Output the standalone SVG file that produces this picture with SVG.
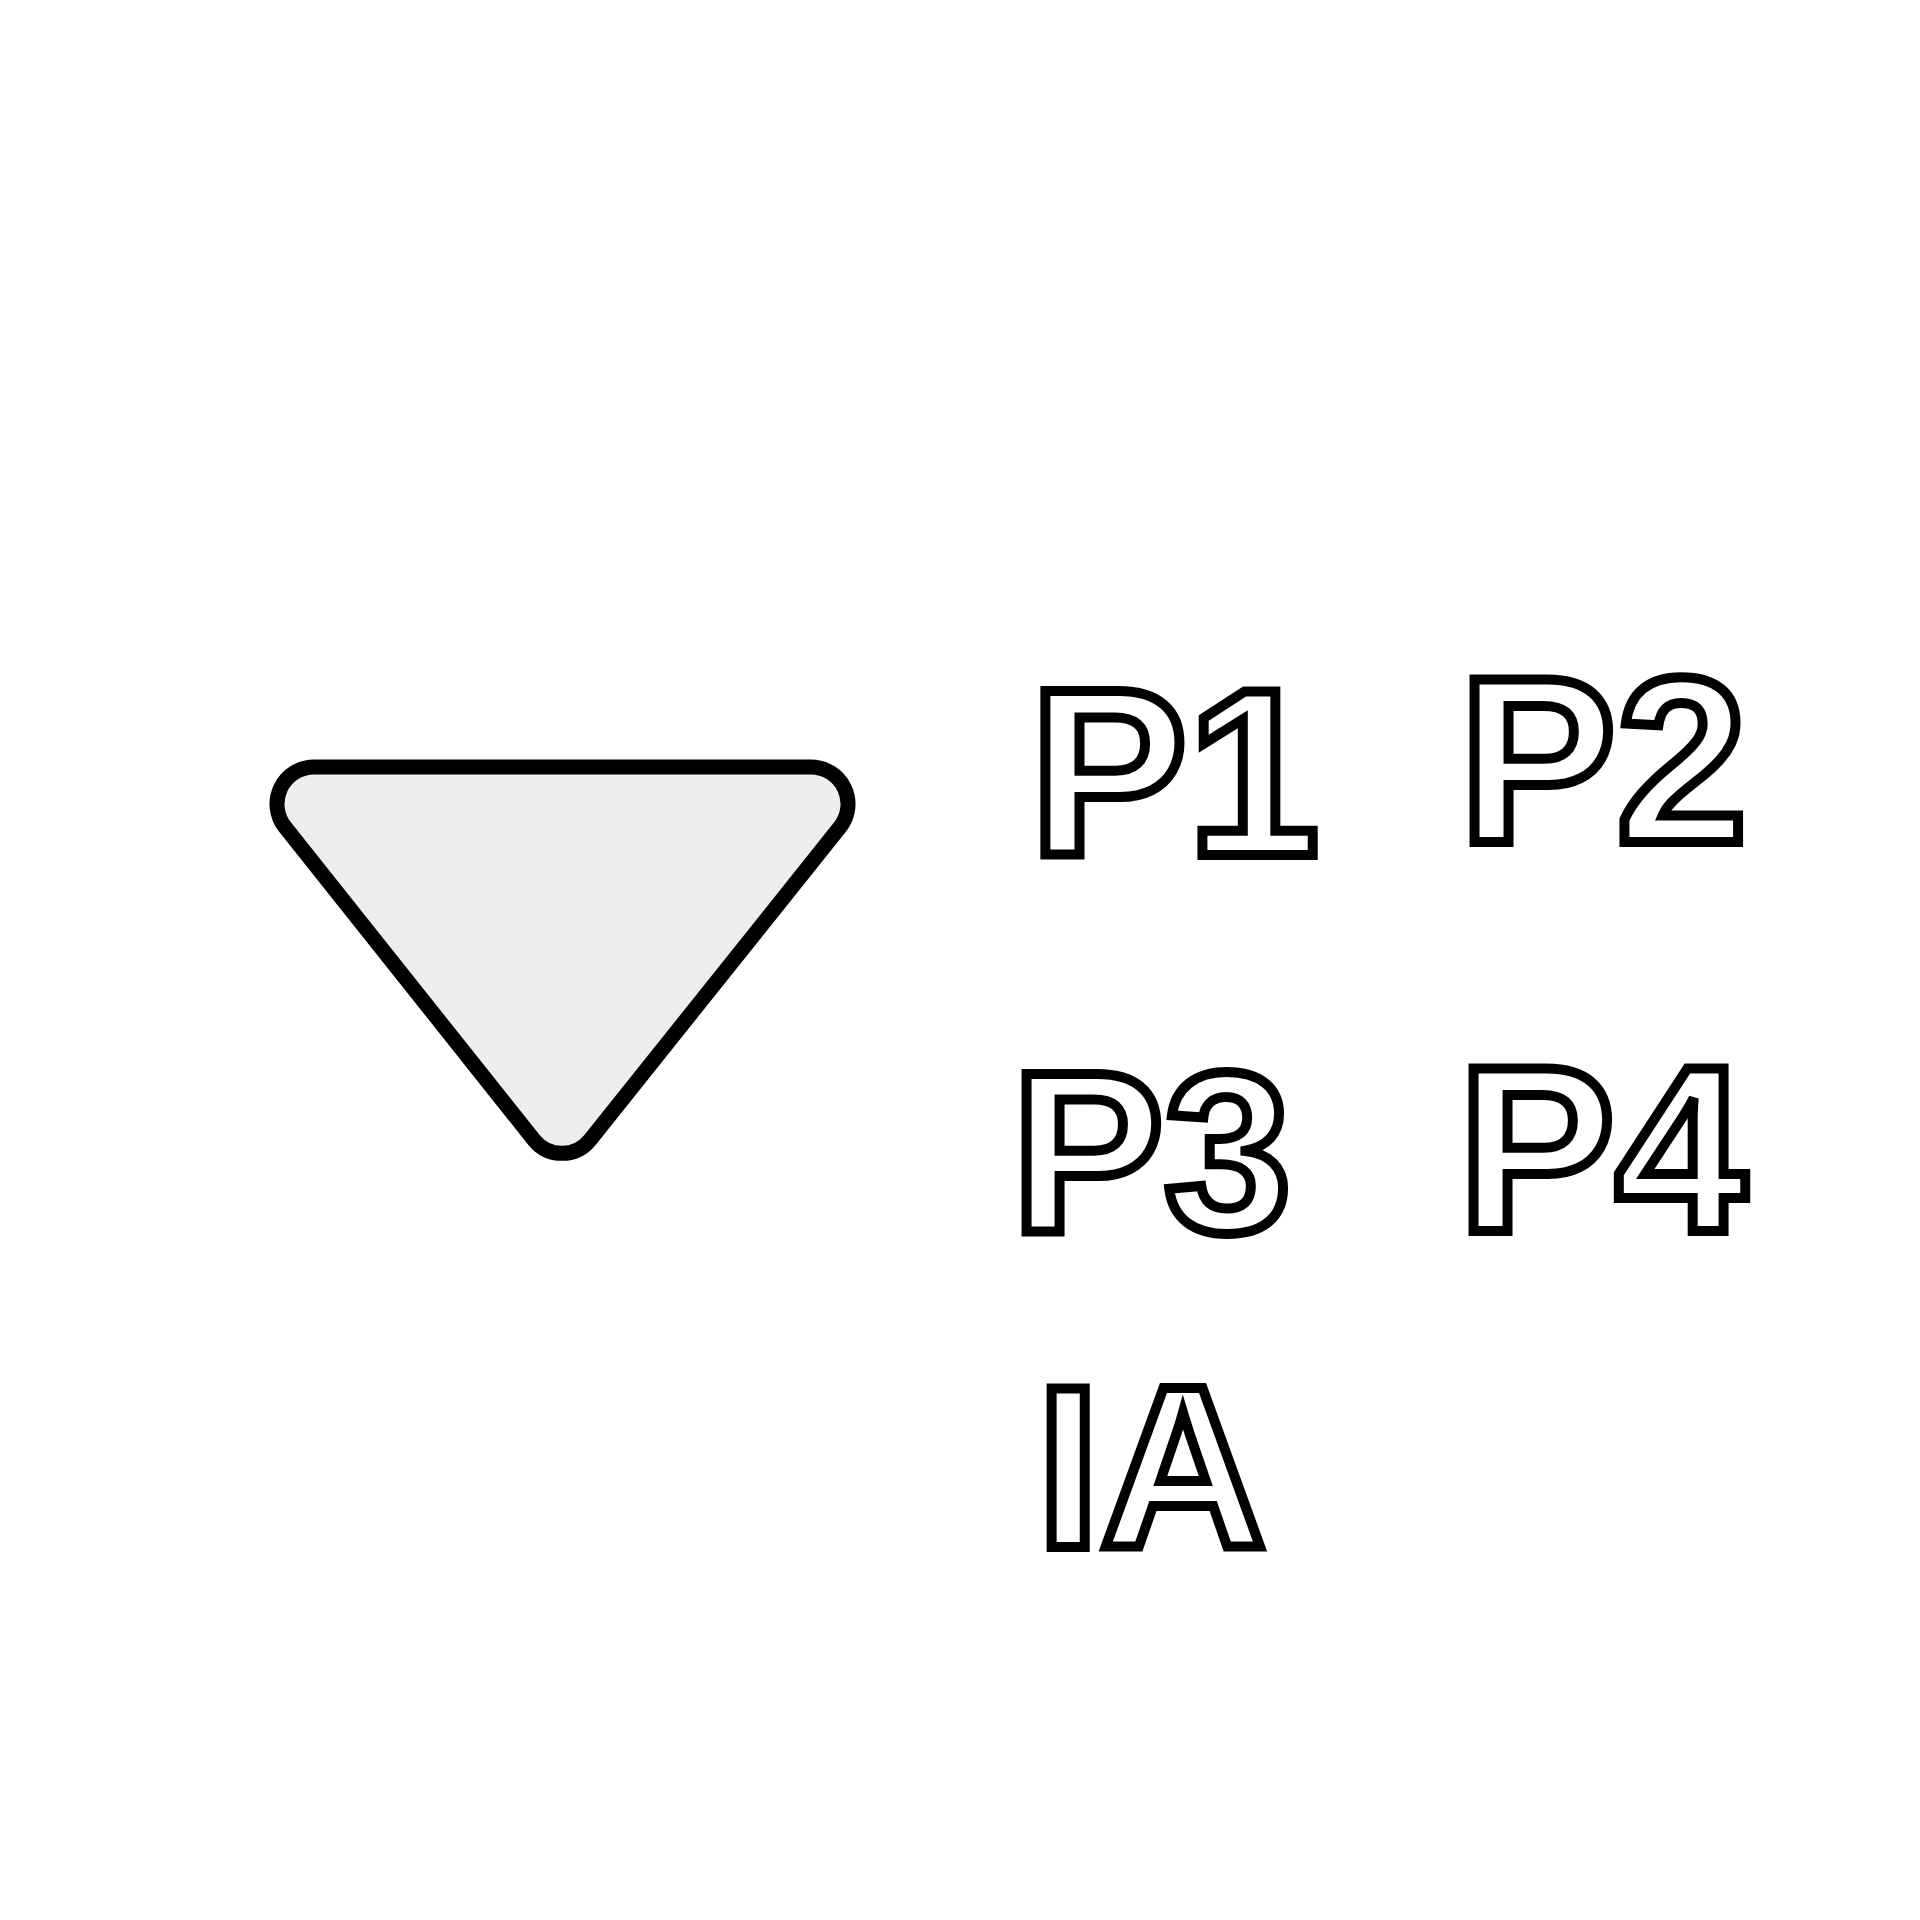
<svg xmlns="http://www.w3.org/2000/svg" width="1920" height="1920" viewBox="0 0 1920 1920">
<style>
.lbl{fill:#ffffff;stroke:#000000;stroke-width:10;stroke-linejoin:miter}
.shape{fill:#eeeeee;stroke:#000000;stroke-width:15;stroke-linejoin:round}
</style>
<rect width="1920" height="1920" fill="#ffffff"/>
<g id="triangle">
<path class="shape" d="M314,767 L811,767 A37,37 0 0 1 840,827 L590,1140 A36,36 0 0 1 534,1140 L285,827 A37,37 0 0 1 314,767 Z"/>
</g>
<g id="connectors"></g>
<g id="label-p1"><text class="lbl" font-family="Liberation Sans" font-weight="700" font-size="237" x="1029.4" y="855">P1</text></g>
<g id="label-p2"><text class="lbl" font-family="Liberation Sans" font-weight="700" font-size="236" x="1458.8" y="842.4">P2</text></g>
<g id="label-p3"><text class="lbl" font-family="Liberation Sans" font-weight="700" font-size="229" x="1011.3" y="1230.7">P3</text></g>
<g id="label-p4"><text class="lbl" font-family="Liberation Sans" font-weight="700" font-size="236" x="1457.8" y="1231">P4</text></g>
<g id="label-ia"><text class="lbl" font-family="Liberation Sans" font-weight="700" font-size="230" x="1036.2" y="1547.3">IA</text></g>
</svg>
